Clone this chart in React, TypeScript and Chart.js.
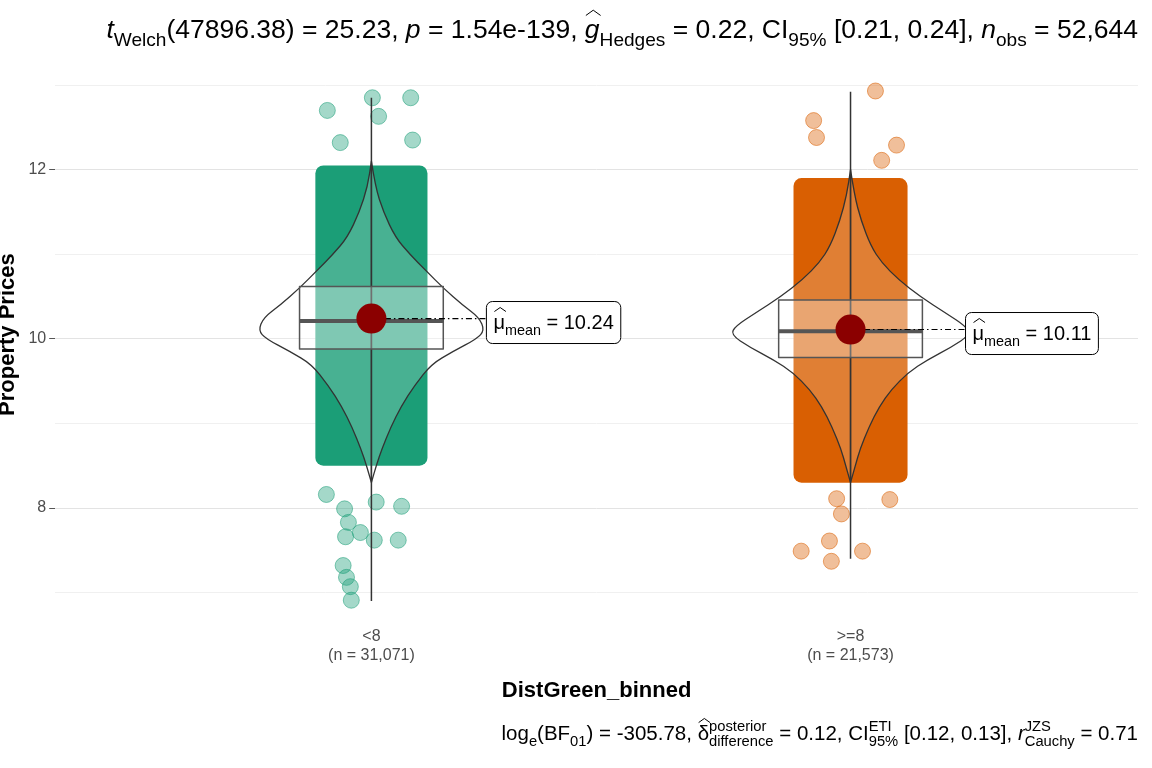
import React, { useEffect, useRef } from 'react';
import { Chart, registerables } from 'chart.js';

Chart.register(...registerables);

const groups = ['<8', '>=8'];
const groupCounts = ['31,071', '21,573'];
const groupColors = ['#1B9E77', '#D95F02'];
const means = [10.24, 10.11];
const boxLow = [9.88, 9.78];
const boxHigh = [10.62, 10.46];
const medians = [10.21, 10.09];
const whiskerLow = [6.9, 7.4];
const whiskerHigh = [12.85, 12.92];
// dense jitter band per group: [xHalfWidth, yLow, yHigh]
const bandHalf = [0.117, 0.119];
const bandLow = [8.5, 8.3];
const bandHigh = [12.05, 11.9];
// violin profile (y, half-width in x units)
const violinY1 = [12.1, 11.8, 11.5, 11.2, 11.0, 10.8, 10.6, 10.4, 10.25, 10.1, 10.0, 9.85, 9.7, 9.45, 9.2, 8.95, 8.7, 8.5, 8.3];
const violinW1 = [0, 0.008, 0.025, 0.05, 0.08, 0.115, 0.15, 0.19, 0.225, 0.236, 0.22, 0.17, 0.125, 0.09, 0.062, 0.04, 0.022, 0.01, 0];
const violinY2 = [12.0, 11.7, 11.4, 11.1, 10.9, 10.7, 10.5, 10.3, 10.15, 10.05, 9.9, 9.75, 9.6, 9.4, 9.2, 8.95, 8.7, 8.5, 8.3];
const violinW2 = [0, 0.008, 0.022, 0.042, 0.065, 0.1, 0.145, 0.2, 0.24, 0.25, 0.21, 0.16, 0.12, 0.085, 0.06, 0.038, 0.02, 0.01, 0];
const outliers1 = [
  { x: 0.908, y: 12.7 }, { x: 0.935, y: 12.32 }, { x: 1.002, y: 12.85 }, { x: 1.015, y: 12.63 },
  { x: 1.082, y: 12.85 }, { x: 1.086, y: 12.35 }, { x: 0.906, y: 8.16 }, { x: 0.944, y: 7.99 },
  { x: 0.952, y: 7.83 }, { x: 0.946, y: 7.66 }, { x: 0.977, y: 7.71 }, { x: 0.941, y: 7.32 },
  { x: 0.948, y: 7.18 }, { x: 0.956, y: 7.07 }, { x: 0.958, y: 6.91 }, { x: 1.006, y: 7.62 },
  { x: 1.01, y: 8.07 }, { x: 1.056, y: 7.62 }, { x: 1.063, y: 8.02 },
];
const outliers2 = [
  { x: 1.923, y: 12.58 }, { x: 1.929, y: 12.38 }, { x: 2.052, y: 12.93 }, { x: 2.096, y: 12.29 },
  { x: 2.065, y: 12.11 }, { x: 1.971, y: 8.11 }, { x: 1.981, y: 7.93 }, { x: 1.897, y: 7.49 },
  { x: 1.96, y: 7.37 }, { x: 1.956, y: 7.61 }, { x: 2.025, y: 7.49 }, { x: 2.082, y: 8.1 },
];

type Seg = { t: string; s?: 'i' | 'sub' | 'sup' | 'hat' | 'ihat' };

function drawRich(ctx: CanvasRenderingContext2D, segs: Seg[], x: number, y: number, size: number, align: 'left' | 'right' | 'center') {
  const font = (sz: number, it: boolean) => `${it ? 'italic ' : ''}${sz}px Arial, "Liberation Sans", sans-serif`;
  const widthOf = (sg: Seg) => {
    const small = sg.s === 'sub' || sg.s === 'sup';
    ctx.font = font(small ? size * 0.72 : size, sg.s === 'i' || sg.s === 'ihat');
    return ctx.measureText(sg.t).width;
  };
  let total = 0;
  const widths = segs.map(widthOf);
  const offsets: number[] = [];
  for (let i = 0; i < segs.length; i++) {
    if (segs[i].s === 'sup' && i > 0 && segs[i - 1].s === 'sub') {
      offsets.push(offsets[i - 1]);
      total += Math.max(0, widths[i] - widths[i - 1]);
    } else {
      offsets.push(total);
      total += widths[i];
    }
  }
  const x0 = align === 'left' ? x : align === 'right' ? x - total : x - total / 2;
  ctx.textBaseline = 'alphabetic';
  ctx.textAlign = 'left';
  ctx.fillStyle = '#000';
  segs.forEach((sg, i) => {
    const small = sg.s === 'sub' || sg.s === 'sup';
    ctx.font = font(small ? size * 0.72 : size, sg.s === 'i' || sg.s === 'ihat');
    const dy = sg.s === 'sub' ? size * 0.3 : sg.s === 'sup' ? -size * 0.45 : 0;
    const xx = x0 + offsets[i];
    ctx.fillText(sg.t, xx, y + dy);
    if (sg.s === 'hat' || sg.s === 'ihat') {
      ctx.beginPath();
      ctx.lineWidth = 1;
      ctx.strokeStyle = '#000';
      const top = y - size * 0.85;
      ctx.moveTo(xx + 1, top);
      ctx.lineTo(xx + widths[i] / 2 + 1, top - size * 0.2);
      ctx.lineTo(xx + widths[i] + 1, top);
      ctx.stroke();
    }
  });
}

function smoothPath(ctx: CanvasRenderingContext2D, pts: { x: number; y: number }[]) {
  ctx.moveTo(pts[0].x, pts[0].y);
  for (let i = 1; i < pts.length - 1; i++) {
    const mx = (pts[i].x + pts[i + 1].x) / 2, my = (pts[i].y + pts[i + 1].y) / 2;
    ctx.quadraticCurveTo(pts[i].x, pts[i].y, mx, my);
  }
  ctx.lineTo(pts[pts.length - 1].x, pts[pts.length - 1].y);
}

const overlay = {
  id: 'overlay',
  beforeDatasetsDraw(chart: any) {
    const { ctx, scales } = chart;
    const xs = scales.x, ys = scales.y;
    ctx.save();
    groups.forEach((_, g) => {
      const c = g + 1;
      ctx.fillStyle = groupColors[g];
      const x1 = xs.getPixelForValue(c - bandHalf[g]);
      const x2 = xs.getPixelForValue(c + bandHalf[g]);
      const y1 = ys.getPixelForValue(bandHigh[g]);
      const y2 = ys.getPixelForValue(bandLow[g]);
      ctx.beginPath();
      ctx.roundRect(x1, y1, x2 - x1, y2 - y1, 8);
      ctx.fill();
    });
    ctx.restore();
  },
  afterDatasetsDraw(chart: any) {
    const { ctx, scales } = chart;
    const xs = scales.x, ys = scales.y;
    ctx.save();
    const vy = [violinY1, violinY2];
    const vw = [violinW1, violinW2];
    groups.forEach((_, g) => {
      const c = g + 1;
      // violin
      const right = vy[g].map((v, i) => ({ x: xs.getPixelForValue(c + vw[g][i]), y: ys.getPixelForValue(v) }));
      const left = vy[g].map((v, i) => ({ x: xs.getPixelForValue(c - vw[g][i]), y: ys.getPixelForValue(v) })).reverse();
      ctx.beginPath();
      smoothPath(ctx, right);
      smoothPath(ctx, left);
      ctx.closePath();
      ctx.fillStyle = 'rgba(255,255,255,0.2)';
      ctx.fill();
      ctx.strokeStyle = '#333';
      ctx.lineWidth = 1.3;
      ctx.lineJoin = 'round';
      ctx.stroke();
      // whisker
      ctx.beginPath();
      ctx.moveTo(xs.getPixelForValue(c), ys.getPixelForValue(whiskerLow[g]));
      ctx.lineTo(xs.getPixelForValue(c), ys.getPixelForValue(whiskerHigh[g]));
      ctx.strokeStyle = '#333';
      ctx.lineWidth = 1.5;
      ctx.stroke();
      // box
      const bx1 = xs.getPixelForValue(c - 0.15), bx2 = xs.getPixelForValue(c + 0.15);
      const by1 = ys.getPixelForValue(boxHigh[g]), by2 = ys.getPixelForValue(boxLow[g]);
      ctx.fillStyle = 'rgba(255,255,255,0.3)';
      ctx.fillRect(bx1, by1, bx2 - bx1, by2 - by1);
      ctx.strokeStyle = '#555';
      ctx.lineWidth = 1.5;
      ctx.strokeRect(bx1, by1, bx2 - bx1, by2 - by1);
      ctx.beginPath();
      const my = ys.getPixelForValue(medians[g]);
      ctx.moveTo(bx1, my);
      ctx.lineTo(bx2, my);
      ctx.lineWidth = 4;
      ctx.strokeStyle = '#555';
      ctx.stroke();
      // mean
      const mx = xs.getPixelForValue(c), mny = ys.getPixelForValue(means[g]);
      const lx = xs.getPixelForValue(c + 0.24);
      ctx.beginPath();
      ctx.setLineDash([6, 3, 1.5, 3]);
      ctx.moveTo(mx, mny);
      ctx.lineTo(lx, mny);
      ctx.strokeStyle = '#000';
      ctx.lineWidth = 1.2;
      ctx.stroke();
      ctx.setLineDash([]);
      ctx.beginPath();
      ctx.arc(mx, mny, 15, 0, Math.PI * 2);
      ctx.fillStyle = '#8B0000';
      ctx.fill();
      // label box
      ctx.font = '20px Arial, "Liberation Sans", sans-serif';
      const txt = ` = ${means[g].toFixed(2)}`;
      const w = ctx.measureText('μ').width + ctx.measureText(txt).width + 50;
      const bh = 42, bt = mny - 17;
      ctx.beginPath();
      ctx.roundRect(lx, bt, w, bh, 6);
      ctx.fillStyle = '#fff';
      ctx.fill();
      ctx.strokeStyle = '#000';
      ctx.lineWidth = 1;
      ctx.stroke();
      drawRich(ctx, [{ t: 'μ', s: 'hat' }, { t: 'mean', s: 'sub' }, { t: txt }], lx + 7, bt + 27, 20, 'left');
    });
    const ca = chart.chartArea;
    drawRich(ctx, [
      { t: 't', s: 'i' }, { t: 'Welch', s: 'sub' }, { t: '(47896.38) = 25.23, ' }, { t: 'p', s: 'i' },
      { t: ' = 1.54e-139, ' }, { t: 'g', s: 'ihat' }, { t: 'Hedges', s: 'sub' }, { t: ' = 0.22, CI' },
      { t: '95%', s: 'sub' }, { t: ' [0.21, 0.24], ' }, { t: 'n', s: 'i' }, { t: 'obs', s: 'sub' }, { t: ' = 52,644' },
    ], ca.right, 38, 26.5, 'right');
    drawRich(ctx, [
      { t: 'log' }, { t: 'e', s: 'sub' }, { t: '(BF' }, { t: '01', s: 'sub' }, { t: ') = -305.78, ' },
      { t: 'δ', s: 'hat' }, { t: 'difference', s: 'sub' }, { t: 'posterior', s: 'sup' }, { t: ' = 0.12, CI' },
      { t: '95%', s: 'sub' }, { t: 'ETI', s: 'sup' }, { t: ' [0.12, 0.13], ' }, { t: 'r', s: 'i' },
      { t: 'Cauchy', s: 'sub' }, { t: 'JZS', s: 'sup' }, { t: ' = 0.71' },
    ], ca.right, 740, 20.5, 'right');
    ctx.restore();
  },
};

const App: React.FC = () => {
  const ref = useRef<HTMLCanvasElement | null>(null);
  useEffect(() => {
    if (!ref.current) return;
    const chart = new Chart(ref.current, {
      type: 'scatter',
      data: {
        datasets: [outliers1, outliers2].map((d, g) => ({
          data: d,
          backgroundColor: groupColors[g] + '66',
          borderColor: groupColors[g] + '88',
          borderWidth: 1,
          pointRadius: 8,
        })),
      },
      options: {
        animation: false,
        responsive: false,
        layout: { padding: { top: 58, right: 14, bottom: 60, left: -9 } },
        plugins: { legend: { display: false }, tooltip: { enabled: false } },
        scales: {
          x: {
            type: 'linear', min: 0.34, max: 2.6,
            afterBuildTicks: (ax: any) => { ax.ticks = [{ value: 1 }, { value: 2 }]; },
            ticks: {
              callback: (v: any) => [groups[v - 1], `(n = ${groupCounts[v - 1]})`],
              color: '#4d4d4d', font: { size: 16, family: 'Arial' }, padding: 8,
            },
            grid: { display: false },
            border: { display: false },
            title: { display: true, text: 'DistGreen_binned', color: '#000', font: { size: 22, weight: 'bold', family: 'Arial' }, padding: { top: 4 } },
          },
          y: {
            min: 6.78, max: 13.32,
            afterBuildTicks: (ax: any) => { ax.ticks = [7, 8, 9, 10, 11, 12, 13].map((value) => ({ value })); },
            ticks: {
              callback: (v: any) => (v % 2 === 0 ? String(v) : ''),
              color: '#4d4d4d', font: { size: 16, family: 'Arial' },
            },
            grid: {
              color: (c: any) => (c.tick && c.tick.value % 2 === 0 ? '#e3e3e3' : '#f0f0f0'),
              tickLength: 6,
              tickColor: (c: any) => (c.tick && c.tick.value % 2 === 0 ? '#555' : 'rgba(0,0,0,0)'),
            },
            border: { display: false },
            title: { display: true, text: 'Property Prices', color: '#000', font: { size: 22, weight: 'bold', family: 'Arial' } },
          },
        },
      },
      plugins: [overlay],
    } as any);
    return () => chart.destroy();
  }, []);
  return <canvas ref={ref} width={1152} height={768} style={{ position: 'absolute', left: 0, top: 0, background: '#fff' }} />;
};

export default App;
